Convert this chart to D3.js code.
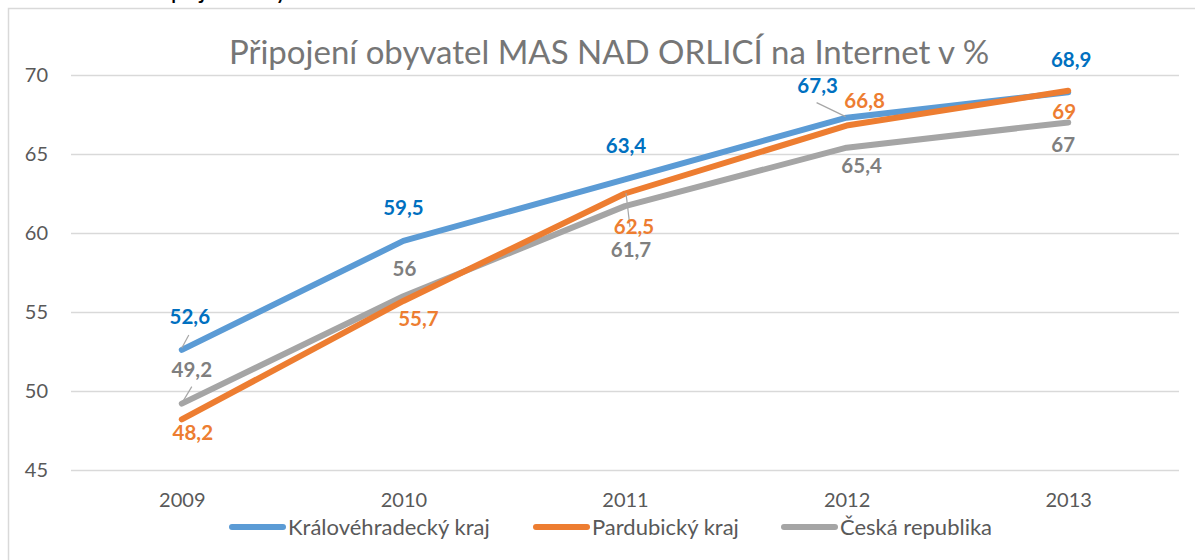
<!DOCTYPE html>
<html>
<head>
<meta charset="utf-8">
<script src="https://cdn.jsdelivr.net/npm/d3@7"></script>
<style>
  body { margin: 0; background: #fff; }
  text { font-family: Lato, "Open Sans", sans-serif; }
</style>
</head>
<body>
<svg id="chart"></svg>
<script>
// data
var years = ["2009", "2010", "2011", "2012", "2013"];
var seriesNames = ["Královéhradecký kraj", "Pardubický kraj", "Česká republika"];
var kralovehradecky = [52.6, 59.5, 63.4, 67.3, 68.9];
var pardubicky = [48.2, 55.7, 62.5, 66.8, 69];
var ceskaRepublika = [49.2, 56, 61.7, 65.4, 67];
var yTicks = [45, 50, 55, 60, 65, 70];

var titleText = "Připojení obyvatel MAS NAD ORLICÍ na Internet v %";

var screen = {width: 1195, height: 560};
var margins = {top: 75, bottom: 90, left: 71, right: 16};

var lineColors = ["#5b9bd5", "#ed7d31", "#a5a5a5"];
var labelColors = ["#0070c0", "#ed7d31", "#7f7f7f"];

// label offsets from the point: centre x, baseline y
var labelPlace = [
  [[8, -26], [0, -26], [1, -26], [-29, -25], [3, -25]],
  [[11, 21], [15, 25], [9, 40], [18, -18], [-4, 28]],
  [[10, -27], [1, -20], [6, 51], [15, 25], [-5, 30]]
];
// leader lines: [series, index, x1, y1, x2, y2] relative to the point
var leaders = [
  [0, 0, 7, -15, 0, -2],
  [2, 0, 10, -17, 1, -2],
  [2, 2, 1, -13, 5, 21],
  [0, 3, -30, -15, -1, -1]
];

var series = [kralovehradecky, pardubicky, ceskaRepublika];

var svg = d3.select("#chart")
  .attr("width", screen.width)
  .attr("height", screen.height);

// chart frame (runs past the picture edge)
svg.append("rect")
  .attr("x", 8.5).attr("y", 8.5)
  .attr("width", 1200).attr("height", 600)
  .attr("fill", "#fff")
  .attr("stroke", "#d9d9d9")
  .attr("stroke-width", 1.5);

// caption above the chart, cut off by the top edge
svg.append("text")
  .attr("x", 0).attr("y", -1)
  .attr("font-size", 25)
  .attr("font-weight", "bold")
  .attr("fill", "#000")
  .text("Graf č. 12:");
svg.append("text")
  .attr("x", 140).attr("y", -1)
  .attr("font-size", 25)
  .attr("fill", "#000")
  .attr("textLength", 590)
  .text(titleText);

var xScale = d3.scalePoint()
  .domain(years)
  .range([margins.left, screen.width - margins.right])
  .padding(0.5);

var yScale = d3.scaleLinear()
  .domain([45, 70])
  .range([screen.height - margins.bottom, margins.top]);

// gridlines + y labels
var yAxis = d3.axisLeft(yScale)
  .tickValues(yTicks)
  .tickSize(-(screen.width - margins.right - margins.left))
  .tickPadding(23)
  .tickFormat(d3.format("d"));

var yG = svg.append("g")
  .attr("transform", "translate(" + margins.left + ",0)")
  .call(yAxis);
yG.select(".domain").remove();
yG.selectAll("line").attr("stroke", "#d9d9d9").attr("stroke-width", 1.5);
yG.selectAll("text")
  .attr("font-size", 20)
  .attr("fill", "#595959")
  .style("font-family", "Lato, sans-serif");

var xAxis = d3.axisBottom(xScale).tickSize(0).tickPadding(23);
var xG = svg.append("g")
  .attr("transform", "translate(0," + yScale(45) + ")")
  .call(xAxis);
xG.select(".domain").remove();
xG.selectAll("text")
  .attr("font-size", 20)
  .attr("fill", "#595959")
  .style("font-family", "Lato, sans-serif");

// title
svg.append("text")
  .attr("x", 609).attr("y", 64)
  .attr("text-anchor", "middle")
  .attr("font-size", 33)
  .attr("fill", "#767676")
  .text(titleText);

var line = d3.line()
  .x(function(d, i){ return xScale(years[i]); })
  .y(function(d){ return yScale(d); });

var drawOrder = [2, 0, 1];
drawOrder.forEach(function(s){
  svg.append("path")
    .datum(series[s])
    .attr("d", line)
    .attr("fill", "none")
    .attr("stroke", lineColors[s])
    .attr("stroke-width", 6)
    .attr("stroke-linecap", "round")
    .attr("stroke-linejoin", "round");
});

// leader lines
leaders.forEach(function(l){
  var px = xScale(years[l[1]]), py = yScale(series[l[0]][l[1]]);
  svg.append("line")
    .attr("x1", px + l[2]).attr("y1", py + l[3])
    .attr("x2", px + l[4]).attr("y2", py + l[5])
    .attr("stroke", "#a6a6a6")
    .attr("stroke-width", 1.2);
});

// data labels
var fmt = function(v){ return String(v).replace(".", ","); };
series.forEach(function(vals, s){
  svg.append("g").selectAll("text")
    .data(vals)
    .enter()
    .append("text")
    .attr("x", function(d, i){ return xScale(years[i]) + labelPlace[s][i][0]; })
    .attr("y", function(d, i){ return yScale(d) + labelPlace[s][i][1]; })
    .attr("text-anchor", "middle")
    .attr("font-size", 20.5)
    .attr("font-weight", "bold")
    .attr("fill", labelColors[s])
    .text(fmt);
});

// legend
var legendX = [230, 534, 782];
var legend = svg.append("g").selectAll("g")
  .data(seriesNames)
  .enter()
  .append("g")
  .attr("transform", function(d, i){ return "translate(" + legendX[i] + ",527)"; });
legend.append("line")
  .attr("x1", 2).attr("x2", 53)
  .attr("stroke", function(d, i){ return lineColors[i]; })
  .attr("stroke-width", 6)
  .attr("stroke-linecap", "round");
legend.append("text")
  .attr("x", 58).attr("y", 7.5)
  .attr("font-size", 22)
  .attr("fill", "#595959")
  .text(function(d){ return d; });
</script>
</body>
</html>
